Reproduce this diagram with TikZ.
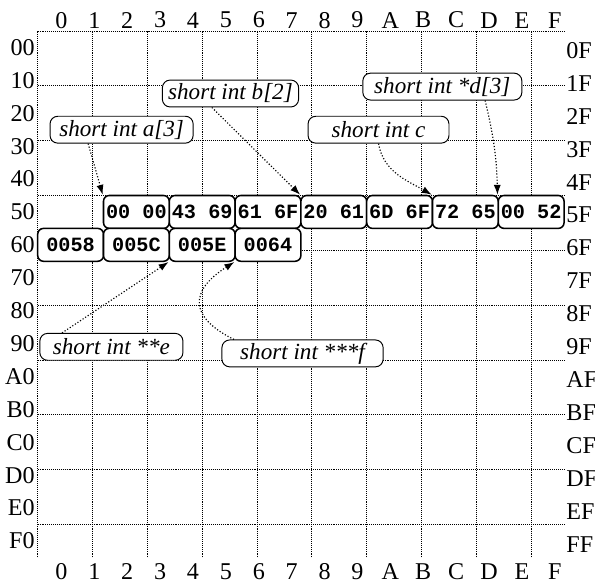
\documentclass[tikz,border=0pt]{standalone}
\usepackage{fontspec}
\setmainfont{Liberation Serif}
\setmonofont{Liberation Mono}
\usetikzlibrary{arrows.meta, positioning}
\tikzset{
  cajaMemoria/.style={
    draw, line width=0.8pt, rounded corners=3pt, fill=white,
    minimum width=1.2cm, minimum height=0.6cm, inner sep=0pt,
    font=\ttfamily\bfseries\fontsize{10.5}{12}\selectfont
  },
  cajaVariable/.style={
    draw, line width=0.5pt, rounded corners=4pt, fill=white,
    minimum height=0.49cm, inner xsep=3pt, inner ysep=1pt,
    font=\itshape\fontsize{12}{14}\selectfont
  },
  flechaPuntero/.style={-{Latex[length=1.8mm, width=1.3mm]}, densely dotted, line width=0.6pt},
  etiquetaEje/.style={font=\fontsize{12.5}{14}\selectfont, inner sep=0pt},
  rejilla/.style={dash pattern=on 0.5pt off 0.5pt, line width=0.45pt},
}
\begin{document}
\begin{tikzpicture}[x=0.6cm, y=0.6cm]
    \useasboundingbox (-1.146,0.942) rectangle (16.94,-16.75);
    \draw[rejilla] (0,0) grid (16,-16);
    % etiquetas de columnas y filas
    \foreach \h [count=\i from 0] in {0,1,2,3,4,5,6,7,8,9,A,B,C,D,E,F} {
      \node[etiquetaEje] (colN\i) at (\i+0.72,0.33) {\h};
      \node[etiquetaEje] (colS\i) at (\i+0.72,-16.43) {\h};
      \node[etiquetaEje, anchor=east] (filI\i) at (-0.08,-\i-0.5) {\h0};
      \node[etiquetaEje, anchor=west] (filD\i) at (16.06,-\i-0.6) {\h F};
    }
    % celdas de memoria
    \node[cajaMemoria] (m52) at (3,-5.5) {00 00};
    \node[cajaMemoria] (m54) at (5,-5.5) {43 69};
    \node[cajaMemoria] (m56) at (7,-5.5) {61 6F};
    \node[cajaMemoria] (m58) at (9,-5.5) {20 61};
    \node[cajaMemoria] (m5A) at (11,-5.5) {6D 6F};
    \node[cajaMemoria] (m5C) at (13,-5.5) {72 65};
    \node[cajaMemoria] (m5E) at (15,-5.5) {00 52};
    \node[cajaMemoria] (m60) at (1,-6.5) {0058};
    \node[cajaMemoria] (m62) at (3,-6.5) {005C};
    \node[cajaMemoria] (m64) at (5,-6.5) {005E};
    \node[cajaMemoria] (m66) at (7,-6.5) {0064};
    % variables
    \node[cajaVariable, minimum width=2.61cm] (varA) at (2.55,-3.0) {short int a[3]};
    \node[cajaVariable, minimum width=2.46cm] (varB) at (5.86,-1.9) {short int b[2]};
    \node[cajaVariable, minimum width=2.57cm] (varC) at (10.36,-3.0) {short int c};
    \node[cajaVariable, minimum width=2.90cm] (varD) at (12.3,-1.69) {short int *d[3]};
    \node[cajaVariable, minimum width=2.61cm] (varE) at (2.24,-9.6) {short int **e};
    \node[cajaVariable, minimum width=2.94cm] (varF) at (8.05,-9.8) {short int ***f};
    \draw[flechaPuntero] ([xshift=-0.61cm]varA.south) -- (m52.north west);
    \draw[flechaPuntero] ([xshift=-0.34cm]varB.south) -- (m58.north west);
    \draw[flechaPuntero] (varC.south) to[out=-80, in=150] (m5C.north west);
    \draw[flechaPuntero] ([xshift=0.78cm]varD.south) to[bend left=6] (m5E.north west);
    \draw[flechaPuntero] ([xshift=-0.9cm]varE.north) -- (m64.south west);
    \draw[flechaPuntero] ([xshift=-1.25cm]varF.north) .. controls (4.6,-8.7) and (4.6,-7.9) .. (m66.south west);
  \end{tikzpicture}
\end{document}
